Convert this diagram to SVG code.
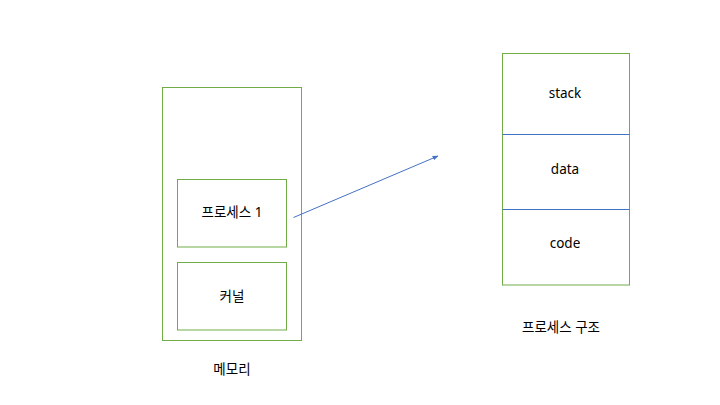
<svg xmlns="http://www.w3.org/2000/svg" width="720" height="405" viewBox="0 0 720 405">
<defs>
<style>
.box{fill:#fff;stroke:#70ad47;stroke-width:1}
.div{stroke:#4472c4;stroke-width:1}
.t{font-family:"Noto Sans","Noto Sans CJK KR",sans-serif;font-size:13.5px;fill:#000;text-anchor:middle;dominant-baseline:central}
</style>
<marker id="ah" viewBox="0 0 10 10" refX="9" refY="5" markerWidth="6" markerHeight="6" orient="auto" markerUnits="userSpaceOnUse">
<path d="M0,1 L10,5 L0,9 z" fill="#4472c4"/>
</marker>
</defs>
<rect width="720" height="405" fill="#fff"/>
<g id="memory">
<rect class="box" x="162.5" y="87.5" width="139" height="253"/>
<text class="t" x="232" y="369">메모리</text>
</g>
<g id="process1">
<rect class="box" x="177.5" y="179.5" width="109" height="67.5"/>
<text class="t" x="232" y="212">프로세스 1</text>
</g>
<g id="kernel">
<rect class="box" x="177.5" y="262.5" width="109" height="67.5"/>
<text class="t" x="232" y="296">커널</text>
</g>
<g id="structure">
<rect class="box" x="502.5" y="53.5" width="127" height="231.5"/>
<line class="div" x1="502.5" y1="134.5" x2="629.5" y2="134.5"/>
<line class="div" x1="502.5" y1="209.5" x2="629.5" y2="209.5"/>
<text class="t" x="565" y="93">stack</text>
<text class="t" x="565" y="169">data</text>
<text class="t" x="565" y="243">code</text>
<text class="t" x="561" y="327">프로세스 구조</text>
</g>
<g id="connectors">
<line x1="293.5" y1="217.5" x2="438" y2="156" stroke="#4472c4" stroke-width="1" marker-end="url(#ah)"/>
</g>
</svg>
